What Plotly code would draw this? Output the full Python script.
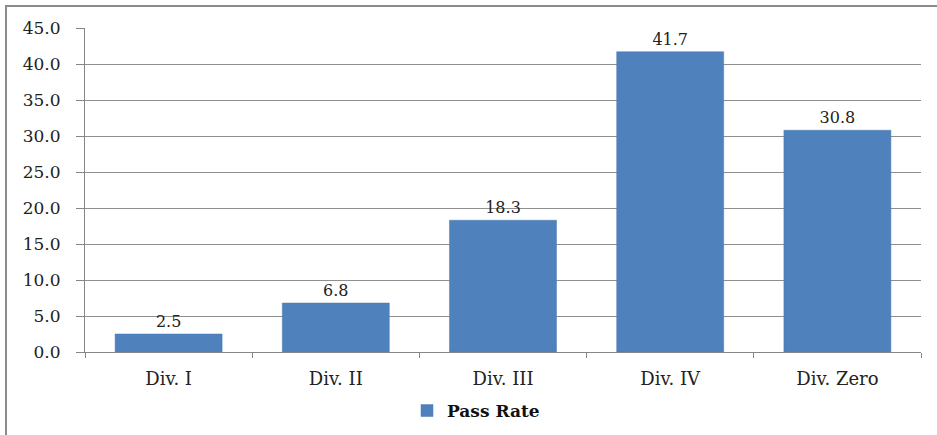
import plotly.graph_objects as go

categories = ["Div. I", "Div. II", "Div. III", "Div. IV", "Div. Zero"]
pass_rate = [2.5, 6.8, 18.3, 41.7, 30.8]
y_ticks = [0, 5, 10, 15, 20, 25, 30, 35, 40, 45]

W, H = 937, 435
L, R, T, B = 85, 16, 28, 83
pw, ph = W - L - R, H - T - B
SERIF = "DejaVu Serif"

fig = go.Figure()
fig.add_trace(go.Bar(
    x=categories, y=pass_rate, name="<b>Pass Rate</b>",
    marker=dict(color="#4F81BD", line=dict(color="#4A7AB3", width=0.5)),
    text=[f"{v:.1f}" for v in pass_rate], textposition="outside",
    textfont=dict(family=SERIF, size=16, color="#222222"),
    cliponaxis=False,
))

fig.update_layout(
    width=W, height=H,
    margin=dict(l=L, r=R, t=T, b=B, autoexpand=False),
    paper_bgcolor="white", plot_bgcolor="white",
    font=dict(family=SERIF, size=16, color="#222222"),
    bargap=0.36,
    showlegend=True,
    legend=dict(orientation="h", x=476 / W, xanchor="center",
                xref="container", yref="container",
                y=(H - 411) / H, yanchor="middle", bgcolor="rgba(0,0,0,0)",
                font=dict(family=SERIF, size=17, color="#111111")),
    xaxis=dict(showline=True, linecolor="#868686", linewidth=1, automargin=False,
               ticks="outside", tickson="boundaries", ticklen=5, tickcolor="#868686",
               ticklabelstandoff=10, tickfont=dict(size=18)),
    yaxis=dict(range=[0, 45], tickvals=y_ticks, tickformat=".1f", automargin=False,
               showgrid=True, gridcolor="#8f8f8f", gridwidth=1,
               showline=True, linecolor="#868686", linewidth=1,
               ticks="outside", ticklen=8, tickcolor="#868686",
               ticklabelstandoff=12, tickfont=dict(size=17), zeroline=False),
)

# outer chart frame (clipped at right/bottom like the reference)
fig.add_shape(type="rect", xref="paper", yref="paper",
              x0=(6 - L) / pw, x1=(W + 5 - L) / pw,
              y0=-(H + 5 - T - ph) / ph, y1=(H - B - 6) / ph,
              line=dict(color="#8c8c8c", width=2), layer="below")

# drop the default page margin so the figure sits at the window origin
fig.write_html("out.html", config={"displayModeBar": False},
               post_script="document.body.style.margin='0';")
